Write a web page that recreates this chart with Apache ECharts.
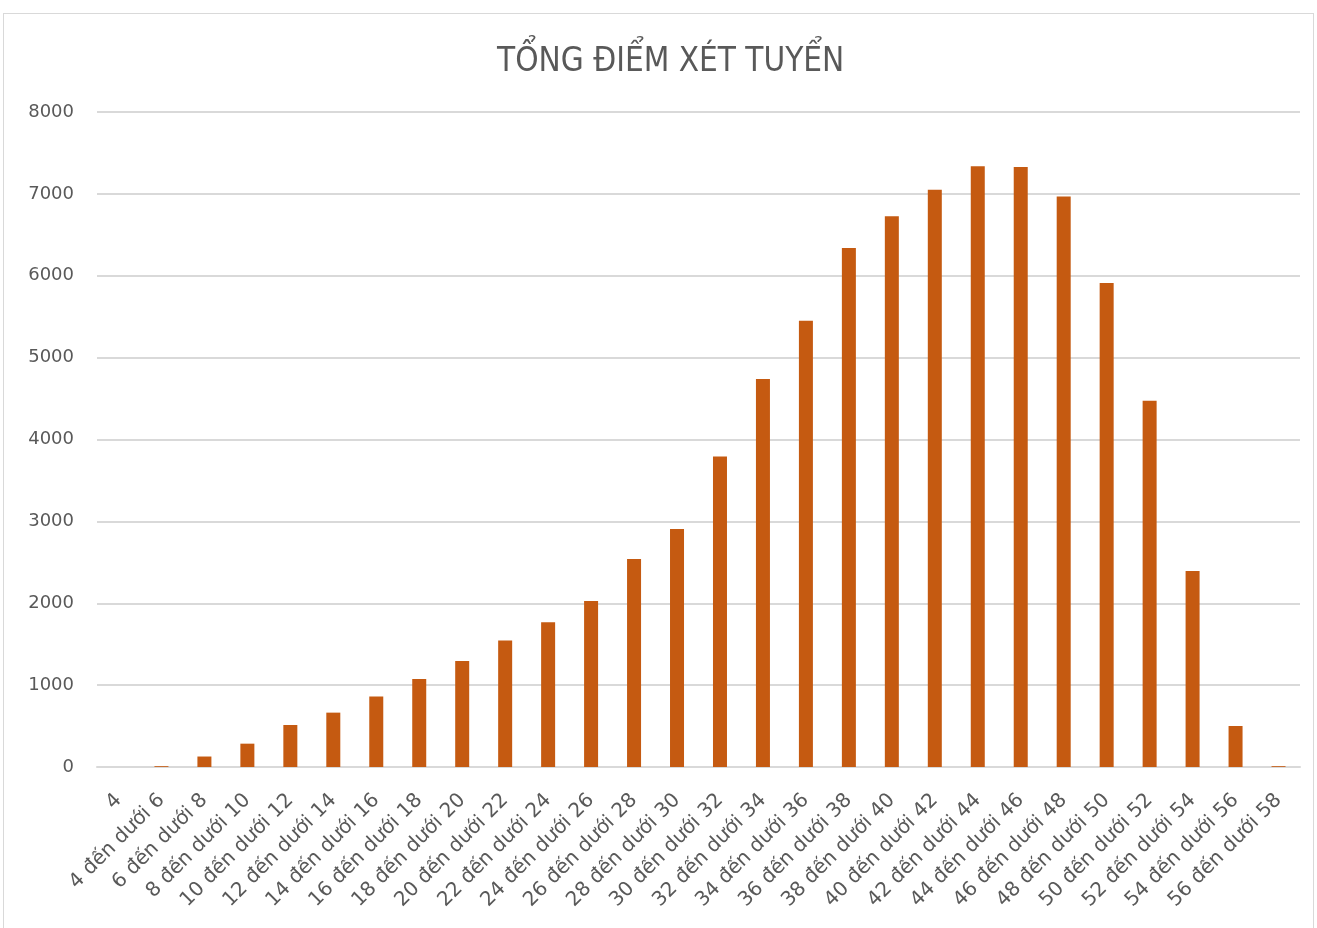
<!DOCTYPE html>
<html>
<head>
<meta charset="utf-8">
<script src="https://cdn.jsdelivr.net/npm/echarts@6/dist/echarts.min.js"></script>
<style>
  html, body { margin: 0; padding: 0; background: #fff; }
  #frame { position: absolute; left: 3px; top: 13px; width: 1311px; height: 930px; border: 1px solid #d9d9d9; box-sizing: border-box; }
  #main { position: absolute; left: 0; top: 0; width: 1317px; height: 928px; }
</style>
</head>
<body>
<div id="frame"></div>
<div id="main"></div>
<script>
// nhóm điểm
var categories = ['4', '4 đến dưới 6', '6 đến dưới 8', '8 đến dưới 10', '10 đến dưới 12',
  '12 đến dưới 14', '14 đến dưới 16', '16 đến dưới 18', '18 đến dưới 20', '20 đến dưới 22',
  '22 đến dưới 24', '24 đến dưới 26', '26 đến dưới 28', '28 đến dưới 30', '30 đến dưới 32',
  '32 đến dưới 34', '34 đến dưới 36', '36 đến dưới 38', '38 đến dưới 40', '40 đến dưới 42',
  '42 đến dưới 44', '44 đến dưới 46', '46 đến dưới 48', '48 đến dưới 50', '50 đến dưới 52',
  '52 đến dưới 54', '54 đến dưới 56', '56 đến dưới 58'];
// số thí sinh
var counts = [0, 10, 128, 285, 513, 664, 861, 1074, 1295, 1546,
  1769, 2029, 2539, 2906, 3793, 4740, 5450, 6338, 6728, 7049,
  7338, 7329, 6967, 5911, 4473, 2395, 501, 10];
var yTicks = [0, 1000, 2000, 3000, 4000, 5000, 6000, 7000, 8000];

var myChart = echarts.init(document.getElementById('main'));
myChart.setOption({
  animation: false,
  title: {
    text: 'TỔNG ĐIỂM XÉT TUYỂN',
    left: 492,
    top: 41,
    textStyle: {
      fontFamily: '"Liberation Sans Narrow", "DejaVu Sans Condensed", sans-serif',
      fontSize: 33,
      fontWeight: 'normal',
      color: '#595959'
    }
  },
  grid: { left: 97, right: 17, top: 112, bottom: 161 },
  xAxis: {
    type: 'category',
    data: categories,
    axisLine: { lineStyle: { color: '#d9d9d9', width: 2 } },
    axisTick: { show: false },
    axisLabel: {
      interval: 0,
      rotate: 45,
      margin: 30,
      fontFamily: '"DejaVu Sans", sans-serif',
      fontSize: 20,
      color: '#595959'
    }
  },
  yAxis: {
    type: 'value',
    min: yTicks[0],
    max: yTicks[yTicks.length - 1],
    interval: 1000,
    axisLine: { show: false },
    axisTick: { show: false },
    splitLine: { lineStyle: { color: '#d9d9d9', width: 2 } },
    axisLabel: {
      margin: 23,
      fontFamily: '"DejaVu Sans", sans-serif',
      fontSize: 18,
      color: '#595959',
      formatter: function (v) { return String(v); }
    }
  },
  series: [{
    type: 'bar',
    data: counts,
    barWidth: 14,
    itemStyle: { color: '#C55A11' }
  }]
});
</script>
</body>
</html>
